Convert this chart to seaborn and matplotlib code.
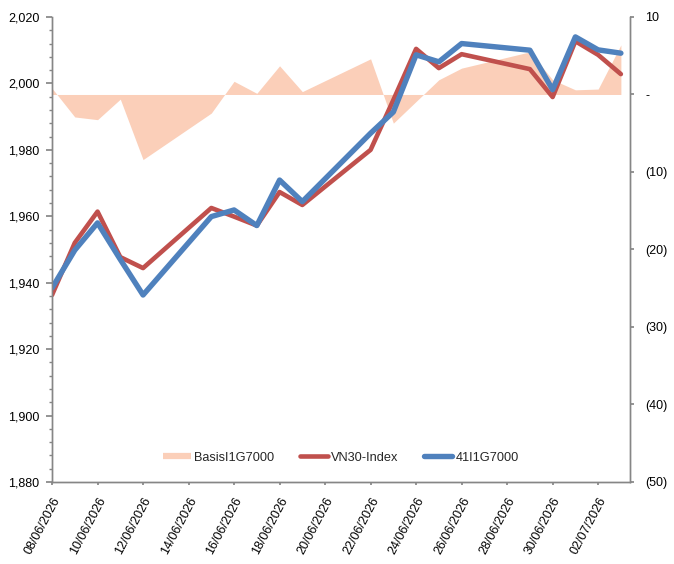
import pandas as pd
import numpy as np
import matplotlib
matplotlib.use('Agg')
import matplotlib.pyplot as plt
from matplotlib.lines import Line2D
from matplotlib.ticker import FuncFormatter, MultipleLocator, StrMethodFormatter
import seaborn as sns

# trading days
dates = ['08/06/2026', '09/06/2026', '10/06/2026', '11/06/2026', '12/06/2026',
         '15/06/2026', '16/06/2026', '17/06/2026', '18/06/2026', '19/06/2026',
         '22/06/2026', '23/06/2026', '24/06/2026', '25/06/2026', '26/06/2026',
         '29/06/2026', '30/06/2026', '01/07/2026', '02/07/2026', '03/07/2026']
vn30 = [1936.3, 1952.0, 1961.4, 1947.7, 1944.4, 1962.5, 1959.9, 1957.2, 1967.3, 1963.4,
        1980.0, 1995.0, 2010.4, 2004.6, 2008.8, 2004.3, 1995.9, 2012.7, 2008.6, 2002.8]
fut = [1938.4, 1949.8, 1958.0, 1947.0, 1936.3, 1959.9, 1961.9, 1957.2, 1970.9, 1964.4,
       1985.0, 1991.4, 2008.6, 2006.5, 2012.0, 2010.0, 1998.1, 2014.0, 2010.1, 2009.1]
basis = [0.8, -2.9, -3.25, -0.6, -8.4, -2.4, 1.7, 0.15, 3.7, 0.37,
         4.6, -3.7, -0.9, 1.9, 3.4, 5.5, 1.9, 0.6, 0.7, 6.4]

df = pd.DataFrame({'date': pd.to_datetime(dates, format='%d/%m/%Y'),
                   'vn30': vn30, 'fut': fut, 'basis': basis})

red = '#C0504D'
blue = '#4F81BD'
peach = '#FBCFB9'
gray = '#868686'

sns.set_theme(style='white')
plt.rcParams['font.family'] = ['Liberation Sans', 'DejaVu Sans']

fig = plt.figure(figsize=(6.74, 5.64), dpi=100)
ax = fig.add_axes([0.0772, 0.1454, 0.8575, 0.8245])
ax2 = ax.twinx()

# basis area on the right axis
ax2.fill_between(df['date'], 0, df['basis'], color=peach, linewidth=0)

sns.lineplot(data=df, x='date', y='vn30', ax=ax, color=red, linewidth=3.3,
             legend=False, solid_joinstyle='round', solid_capstyle='round')
sns.lineplot(data=df, x='date', y='fut', ax=ax, color=blue, linewidth=3.9,
             legend=False, solid_joinstyle='round', solid_capstyle='round')

ax.set_zorder(ax2.get_zorder() + 1)
ax.patch.set_visible(False)

start = df['date'].iloc[0]
ax.set_xlim(start, start + pd.Timedelta(days=25.4))
ax.set_ylim(1880, 2020)
ax2.set_ylim(-50, 10)

xt = pd.date_range(start, '2026-07-02', freq='2D')
ax.set_xticks(xt)
ax.set_xticklabels([d.strftime('%d/%m/%Y') for d in xt], rotation=62,
                   ha='right', va='top', rotation_mode='anchor')
ax.set_yticks(np.arange(1880, 2021, 20))
ax.yaxis.set_minor_locator(MultipleLocator(4))
ax.yaxis.set_major_formatter(StrMethodFormatter('{x:,.0f}'))

ax2.set_yticks(np.arange(-50, 11, 10))
ax2.yaxis.set_major_formatter(FuncFormatter(
    lambda v, p: '-' if v == 0 else ('(%d)' % -v if v < 0 else '%d' % v)))

ax.set_xlabel('')
ax.set_ylabel('')
ax2.set_ylabel('')

ax.tick_params(axis='x', bottom=True, direction='out', length=2, color=gray,
               labelsize=9, pad=7.3, labelcolor='black')
ax.tick_params(axis='y', which='major', left=True, direction='out', length=4,
               color=gray, labelsize=9, pad=5, labelcolor='black')
ax.tick_params(axis='y', which='minor', left=True, direction='out', length=2.2, color=gray)
ax2.tick_params(axis='y', right=True, direction='out', length=3, color=gray,
                labelsize=9, pad=8, labelcolor='black')

for a in (ax, ax2):
    a.grid(False)
    a.spines['top'].set_visible(False)
    for s in ('left', 'bottom', 'right'):
        a.spines[s].set_color(gray)
        a.spines[s].set_linewidth(1)

handles = [Line2D([], [], color=peach, lw=4.5, solid_capstyle='butt'),
           Line2D([], [], color=red, lw=3.3, solid_capstyle='round'),
           Line2D([], [], color=blue, lw=3.9, solid_capstyle='round')]
labels = ['BasisI1G7000', 'VN30-Index', '41I1G7000']
ax.legend(handles, labels, loc='lower center', bbox_to_anchor=(0.5, 0.015),
          ncol=3, frameon=False, fontsize=9.2, handlelength=2.2,
          columnspacing=2.0, handletextpad=0.25)

fig.savefig('out.png', dpi=100)
